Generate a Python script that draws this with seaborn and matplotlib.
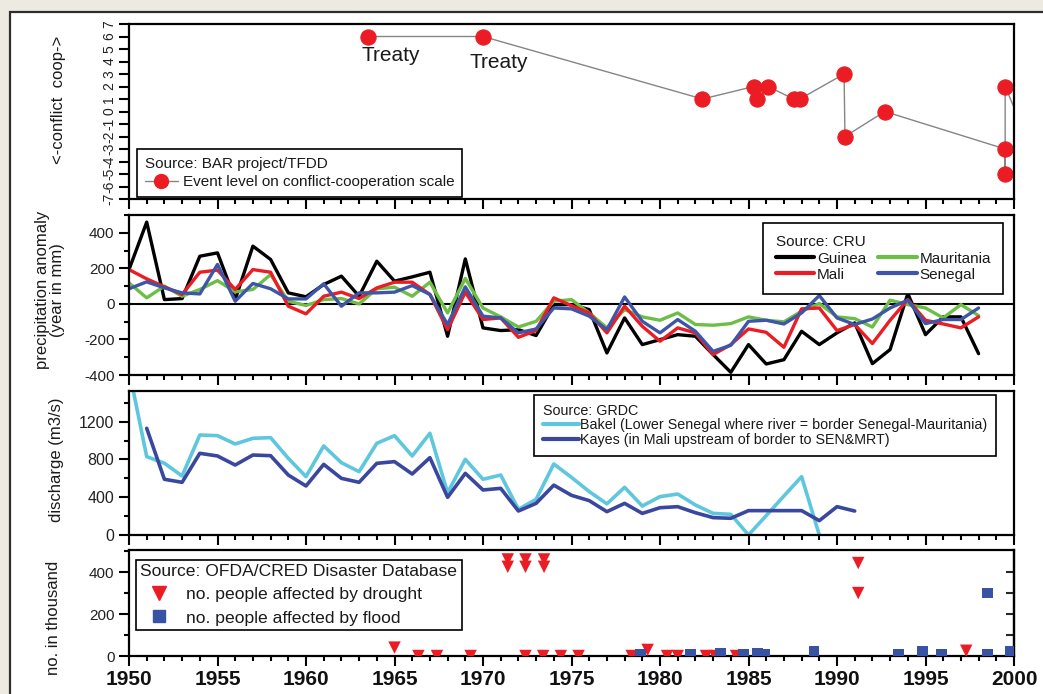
import numpy as np
import pandas as pd
import matplotlib
matplotlib.use("Agg")
import matplotlib.pyplot as plt
import seaborn as sns
from matplotlib.lines import Line2D
from matplotlib.patches import Rectangle
from matplotlib.ticker import MultipleLocator

# ---------------- data ----------------
event_year = [1963.5, 1970.0, 1982.4, 1985.3, 1985.5, 1986.1, 1987.55, 1987.9,
              1990.4, 1990.45, 1992.7, 1999.5, 1999.5, 1999.5, 2000.4]
event_level = [6, 6, 1, 2, 1, 2, 1, 1, 3, -2, 0, -3, -5, 2, -1]
treaty_labels = ["Treaty", "Treaty"]

years = list(range(1950, 1999))
guinea = [193, 460, 24, 30, 268, 287, 24, 325, 250, 62,
          40, 109, 156, 43, 240, 128, 152, 178, -182, 253,
          -135, -150, -145, -178, -5, -4, -32, -276, -79, -229,
          -201, -173, -182, -285, -385, -229, -338, -314, -154, -229,
          -163, -107, -336, -257, 58, -173, -73, -73, -280]
mali = [193, 141, 96, 53, 178, 190, 81, 193, 178, -13,
        -56, 43, 66, 30, 90, 122, 122, 53, -145, 66,
        -88, -79, -188, -150, 34, -10, -51, -163, -13, -126,
        -210, -135, -163, -285, -229, -141, -160, -244, -28, -23,
        -150, -116, -223, -92, 24, -92, -113, -135, -73]
mauritania = [118, 34, 100, 43, 81, 131, 68, 81, 165, 15,
              -9, 24, 30, 0, 85, 94, 43, 122, -51, 143,
              -23, -73, -130, -98, 15, 24, -51, -135, -32, -73,
              -92, -51, -116, -120, -111, -73, -92, -101, -41, 2,
              -73, -83, -130, 21, -4, -23, -79, -4, -66]
senegal = [85, 124, 90, 62, 56, 222, 15, 115, 85, 28,
           28, 113, -13, 62, 62, 66, 103, 53, -116, 96,
           -69, -79, -163, -141, -23, -28, -69, -145, 39, -98,
           -163, -88, -154, -267, -233, -98, -92, -113, -51, 47,
           -79, -116, -85, -23, 21, -111, -88, -88, -23]

bakel_years = list(range(1950, 1990))
bakel = [1750, 830, 760, 625, 1059, 1052, 964, 1024, 1031, 812,
         618, 943, 766, 671, 971, 1052, 837, 1077, 448, 801,
         590, 635, 272, 378, 752, 610, 460, 330, 505, 307,
         406, 434, 318, 229, 219, 0, 205, 413, 618, 0]
kayes_years = list(range(1951, 1992))
kayes = [1130, 590, 558, 865, 837, 741, 847, 840, 635,
         519, 748, 600, 558, 759, 777, 646, 819, 399, 653,
         477, 494, 254, 335, 528, 420, 364, 247, 335, 229,
         289, 300, 236, 184, 177, 258, 258, 258, 258, 152,
         300, 254]

drought_year = [1965.0, 1966.35, 1967.4, 1969.3, 1971.4, 1971.4, 1972.4, 1972.4,
                1973.45, 1973.45, 1972.4, 1973.4, 1974.4, 1975.4, 1978.4, 1979.3,
                1980.4, 1981.0, 1982.6, 1983.1, 1984.3, 1991.2, 1991.2, 1997.3]
drought_value = [40, 0, 0, 0, 460, 425, 460, 425, 460, 425, 0, 0, 0, 0, 0, 29,
                 0, 0, 0, 0, 0, 443, 300, 25]
flood_year = [1978.9, 1981.7, 1983.4, 1984.7, 1985.5, 1985.9, 1988.7, 1993.5,
              1994.85, 1995.9, 1998.5, 1998.5, 1999.8]
flood_value = [5, 8, 10, 8, 12, 8, 20, 8, 20, 6, 300, 5, 20]

xtick_years = [1950, 1955, 1960, 1965, 1970, 1975, 1980, 1985, 1990, 1995, 2000]

# ---------------- style ----------------
RED = "#EC1C24"
GREEN = "#6CBE45"
SEN_BLUE = "#3F55A8"
BAKEL = "#5EC7DE"
KAYES = "#3A479E"
FLOOD = "#3953A4"

sns.set_theme(style="ticks")
plt.rcParams["font.family"] = ["Liberation Sans", "DejaVu Sans"]
plt.rcParams["axes.linewidth"] = 1.6
plt.rcParams["axes.unicode_minus"] = False
plt.rcParams["text.color"] = "#1a1a1a"

W, H = 1043, 694
fig = plt.figure(figsize=(W / 100, H / 100), dpi=100, facecolor="#EDEBE1")
fig.add_artist(Rectangle((10 / W, -0.05), 1.1, 1 - 12 / H + 0.05,
                         transform=fig.transFigure, facecolor="white",
                         edgecolor="#2e2e2e", lw=1.6, zorder=-10))


def axes_px(top, bottom):
    return fig.add_axes([129 / W, 1 - bottom / H, 885 / W, (bottom - top) / H])


ax1 = axes_px(24, 199)
ax2 = axes_px(215, 375)
ax3 = axes_px(391, 535)
ax4 = axes_px(550, 656)
axes = (ax1, ax2, ax3, ax4)

# ---------------- panel 1: events ----------------
df_ev = pd.DataFrame({"year": event_year, "level": event_level})
sns.lineplot(data=df_ev, x="year", y="level", sort=False, estimator=None,
             color="#858585", lw=1.0, marker="o", markersize=11,
             markerfacecolor=RED, markeredgecolor=RED, ax=ax1)

# ---------------- panel 2: precipitation ----------------
df_p = pd.DataFrame({
    "year": years * 4,
    "anomaly": guinea + mauritania + mali + senegal,
    "country": ["Guinea"] * len(years) + ["Mauritania"] * len(years)
               + ["Mali"] * len(years) + ["Senegal"] * len(years),
})
pal = {"Guinea": "black", "Mauritania": GREEN, "Mali": RED, "Senegal": SEN_BLUE}
ax2.axhline(0, color="black", lw=1.5, zorder=1.5)
sns.lineplot(data=df_p, x="year", y="anomaly", hue="country",
             hue_order=["Guinea", "Mauritania", "Mali", "Senegal"],
             palette=pal, lw=2.4, estimator=None, legend=False, ax=ax2, zorder=2)

# ---------------- panel 3: discharge ----------------
df_b = pd.DataFrame({"year": bakel_years, "q": bakel})
df_k = pd.DataFrame({"year": kayes_years, "q": kayes})
sns.lineplot(data=df_b, x="year", y="q", color=BAKEL, lw=2.6, estimator=None, ax=ax3)
sns.lineplot(data=df_k, x="year", y="q", color=KAYES, lw=2.6, estimator=None, ax=ax3)

# ---------------- panel 4: disasters ----------------
df_d = pd.DataFrame({"year": drought_year, "n": drought_value})
df_f = pd.DataFrame({"year": flood_year, "n": flood_value})
sns.scatterplot(data=df_d, x="year", y="n", marker="v", s=80, color=RED,
                edgecolor="none", ax=ax4, zorder=3)
sns.scatterplot(data=df_f, x="year", y="n", marker="s", s=62, color=FLOOD,
                edgecolor="none", ax=ax4, zorder=3)
for coll in ax4.collections:
    coll.set_clip_on(True)
    coll.set_clip_box(ax4.bbox)

# ---------------- common axes styling ----------------
for ax in axes:
    ax.set_xlim(1950, 2000)
    ax.xaxis.set_major_locator(MultipleLocator(5))
    ax.xaxis.set_minor_locator(MultipleLocator(1))
    ax.tick_params(axis="both", which="major", direction="out", length=7,
                   width=1.5, color="black", labelsize=11, labelcolor="#222222")
    ax.tick_params(axis="both", which="minor", direction="out", length=3.8,
                   width=1.5, color="black")
    for s in ax.spines.values():
        s.set_color("black")
        s.set_linewidth(1.6)
    ax.set_xlabel("")
    ax.set_ylabel("")
    ax.set_facecolor("white")

for ax in (ax1, ax2, ax3):
    ax.tick_params(axis="x", labelbottom=False)

# panel 1 axes
ax1.set_ylim(-7, 7)
ax1.set_yticks(range(-7, 8))
ax1.tick_params(axis="y", labelrotation=90, labelsize=10, pad=2)
for lab in ax1.get_yticklabels():
    lab.set_va("center")
offsets = [(-4.5, -7), (-10, -12)]
for i, txt in enumerate(treaty_labels):
    ax1.annotate(txt, (event_year[i], event_level[i]), xytext=offsets[i],
                 textcoords="offset points", ha="left", va="top",
                 fontsize=15, color="#1a1a1a")
h1 = [Line2D([], [], color="#858585", lw=1.0, marker="o", markersize=10,
             markerfacecolor=RED, markeredgecolor=RED)]
leg1 = ax1.legend(h1, ["Event level on conflict-cooperation scale"],
                  title="Source: BAR project/TFDD", loc="lower left",
                  bbox_to_anchor=(0.009, 0.012), fancybox=False, framealpha=1,
                  edgecolor="black", fontsize=11, title_fontsize=11,
                  alignment="left", handlelength=2.2, handletextpad=0.3,
                  borderpad=0.5, labelspacing=0.3, borderaxespad=0)
leg1.get_frame().set_linewidth(1.2)

# panel 2 axes
ax2.set_ylim(-400, 500)
ax2.set_yticks([-400, -200, 0, 200, 400])
ax2.yaxis.set_minor_locator(MultipleLocator(100))
h2 = [Line2D([], [], color=pal[c], lw=3) for c in ["Guinea", "Mali", "Mauritania", "Senegal"]]
leg2 = ax2.legend(h2, ["Guinea", "Mali", "Mauritania", "Senegal"], ncol=2,
                  title="Source: CRU", loc="upper right",
                  bbox_to_anchor=(0.988, 0.95), fancybox=False, framealpha=1,
                  edgecolor="black", fontsize=11, title_fontsize=11,
                  alignment="left", handlelength=2.5, handletextpad=0.2,
                  borderpad=0.8, labelspacing=0.15, columnspacing=0.8,
                  borderaxespad=0)
leg2.get_frame().set_linewidth(1.2)

# panel 3 axes
ax3.set_ylim(0, 1525)
ax3.set_yticks([0, 400, 800, 1200])
ax3.yaxis.set_minor_locator(MultipleLocator(200))
ax3.tick_params(axis="y", labelsize=11.5)
h3 = [Line2D([], [], color=BAKEL, lw=3), Line2D([], [], color=KAYES, lw=3)]
leg3 = ax3.legend(h3, ["Bakel (Lower Senegal where river = border Senegal-Mauritania)",
                       "Kayes (in Mali upstream of border to SEN&MRT)"],
                  title="Source: GRDC", loc="upper left",
                  bbox_to_anchor=(0.458, 0.972), fancybox=False, framealpha=1,
                  edgecolor="black", fontsize=10.3, title_fontsize=10.3,
                  alignment="left", handlelength=2.5, handletextpad=0.1,
                  borderpad=0.6, labelspacing=0.05, borderaxespad=0)
leg3.get_frame().set_linewidth(1.2)

# panel 4 axes
ax4.set_ylim(0, 505)
ax4.set_yticks([0, 200, 400])
ax4.yaxis.set_minor_locator(MultipleLocator(100))
ax4.set_xticks(xtick_years)
ax4.set_xticklabels([str(y) for y in xtick_years])
ax4.tick_params(axis="x", labelsize=15, pad=3)
for lab in ax4.get_xticklabels():
    lab.set_fontweight("bold")
    lab.set_color("#111111")
sec = ax4.secondary_yaxis("right")
sec.set_yticks([100, 200, 300, 400])
sec.tick_params(direction="in", length=6, width=1.5, labelright=False)
sec.spines["right"].set_linewidth(1.6)
h4 = [Line2D([], [], ls="none", marker="v", markersize=10, color=RED),
      Line2D([], [], ls="none", marker="s", markersize=8, color=FLOOD)]
leg4 = ax4.legend(h4, ["no. people affected by drought", "no. people affected by flood"],
                  title="Source: OFDA/CRED Disaster Database", loc="upper left",
                  bbox_to_anchor=(0.008, 0.906), fancybox=False, framealpha=1,
                  edgecolor="black", fontsize=12.6, title_fontsize=12.6,
                  alignment="left", handlelength=2.1, handletextpad=0.5,
                  borderpad=0.25, labelspacing=0.45, borderaxespad=0)
leg4.get_frame().set_linewidth(1.2)

# ---------------- y labels ----------------
fig.text(58 / W, 1 - 100 / H, "<-conflict  coop->", rotation=90, ha="center",
         va="center", fontsize=12, color="#1a1a1a")
fig.text(50 / W, 1 - 290 / H, "precipitation anomaly\n(year in mm)", rotation=90,
         ha="center", va="center", fontsize=12, linespacing=1.05,
         multialignment="center", color="#1a1a1a")
fig.text(57 / W, 1 - 460 / H, "discharge (m3/s)", rotation=90, ha="center",
         va="center", fontsize=12, color="#1a1a1a")
fig.text(53 / W, 1 - 618 / H, "no. in thousand", rotation=90, ha="center",
         va="center", fontsize=12, color="#1a1a1a")

fig.savefig("out.png", dpi=100, facecolor=fig.get_facecolor())
